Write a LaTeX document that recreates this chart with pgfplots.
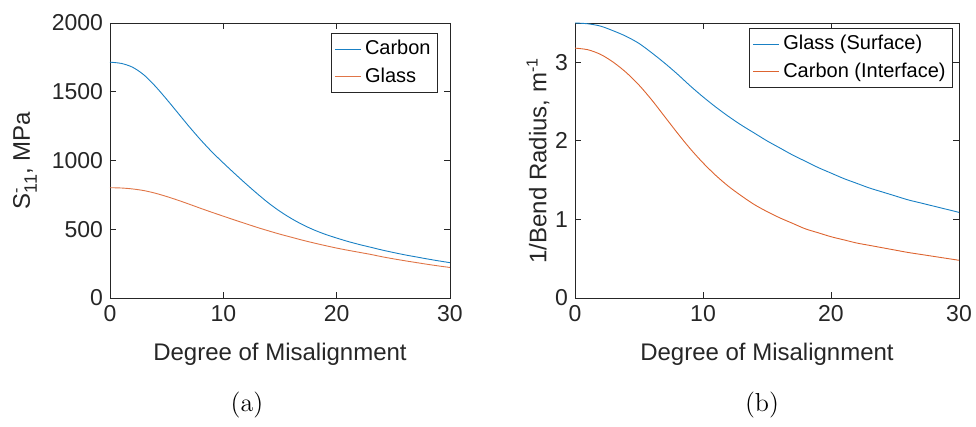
\documentclass[border=0pt]{standalone}
\usepackage{pgfplots}
\pgfplotsset{compat=1.18}
\usepackage{fontspec}
\newfontfamily\arial{Liberation Sans}
\definecolor{mblue}{rgb}{0,0.447,0.741}
\definecolor{morange}{rgb}{0.85,0.325,0.098}
\definecolor{axgray}{rgb}{0.15,0.15,0.15}

\pgfplotsset{
  mstyle/.style={
    scale only axis,
    height=137.5pt,
    xmin=0, xmax=30, xtick={0,10,20,30},
    axis line style={axgray, line width=0.4pt},
    tick style={axgray, line width=0.4pt},
    major tick length=3pt,
    tick label style={font=\arial\fontsize{11.5}{13}\selectfont, text=axgray},
    label style={font=\arial\fontsize{12}{14}\selectfont, text=axgray},
    /pgf/number format/assume math mode=true,
    /pgf/number format/1000 sep={},
    scaled ticks=false,
    xlabel={Degree of Misalignment},
    xlabel style={at={(axis description cs:0.5,0)}, anchor=center, yshift=-28pt},
    legend style={font=\arial\fontsize{10}{12}\selectfont, draw=axgray,
      line width=0.4pt, inner sep=1.5pt, row sep=1pt},
    legend cell align=left,
    legend image code/.code={\draw[#1] (0cm,0cm) -- (0.45cm,0cm);},
    every axis plot/.append style={line width=0.45pt, smooth, tension=0.5, no markers},
  }
}

\begin{document}
\begin{tikzpicture}
\useasboundingbox (0,0) rectangle (488pt,213.5pt);

% (a) compressive strength against misalignment
\begin{axis}[mstyle, at={(55pt,64.5pt)}, anchor=south west, width=170pt,
  ymin=0, ymax=2000, ytick={0,500,1000,1500,2000},
  ylabel={S\rlap{\textsuperscript{-}}\raisebox{-0.55ex}{\fontsize{9}{10}\selectfont 11}, MPa},
  ylabel style={at={(axis description cs:0,0.5)}, anchor=center, yshift=42.5pt},
  legend style={at={(1,1)}, anchor=north east, xshift=-6pt, yshift=-5pt}]
\addplot[mblue!90!white] coordinates {
 (0,1715) (1,1706) (2,1678) (3,1622) (4,1540) (5,1445) (6,1345) (7,1245)
 (8,1150) (9,1062) (10,982) (11,905) (12,830) (13,758) (14,690) (15,630)
 (16,578) (17,533) (18,495) (19,463) (20,436) (21,411) (22,389) (23,369)
 (24,349) (25,331) (26,314) (27,299) (28,284) (29,270) (30,257)};
\addlegendentry{Carbon}
\addplot[morange!80!white] coordinates {
 (0,802) (1,800) (2,793) (3,781) (4,762) (5,738) (6,711) (7,682) (8,652)
 (9,623) (10,595) (11,567) (12,540) (13,513) (14,488) (15,464) (16,442)
 (17,420) (18,400) (19,381) (20,363) (21,347) (22,332) (23,317) (24,300)
 (25,285) (26,271) (27,258) (28,245) (29,233) (30,222)};
\addlegendentry{Glass}
\end{axis}

% (b) curvature against misalignment
\begin{axis}[mstyle, at={(287.5pt,64.5pt)}, anchor=south west, width=192pt,
  ymin=0, ymax=3.5, ytick={0,1,2,3},
  ylabel={1/Bend Radius, m\textsuperscript{-1}},
  ylabel style={at={(axis description cs:0,0.5)}, anchor=center, yshift=18.5pt},
  legend style={at={(1,1)}, anchor=north east, xshift=-3pt, yshift=-2.5pt}]
\addplot[mblue!90!white] coordinates {
 (0,3.50) (1,3.49) (2,3.46) (3,3.40) (4,3.33) (5,3.24) (6,3.12) (7,2.99)
 (8,2.85) (9,2.70) (10,2.56) (11,2.43) (12,2.31) (13,2.20) (14,2.10)
 (15,2.00) (16,1.91) (17,1.82) (18,1.74) (19,1.66) (20,1.59) (21,1.52)
 (22,1.46) (23,1.40) (24,1.35) (25,1.30) (26,1.25) (27,1.21) (28,1.17)
 (29,1.13) (30,1.09)};
\addlegendentry{Glass (Surface)}
\addplot[morange!90!white] coordinates {
 (0,3.18) (1,3.16) (2,3.10) (3,3.00) (4,2.87) (5,2.71) (6,2.52) (7,2.31)
 (8,2.10) (9,1.90) (10,1.72) (11,1.56) (12,1.42) (13,1.30) (14,1.19)
 (15,1.10) (16,1.02) (17,0.95) (18,0.88) (19,0.83) (20,0.78) (21,0.74)
 (22,0.70) (23,0.67) (24,0.64) (25,0.61) (26,0.58) (27,0.555) (28,0.53)
 (29,0.505) (30,0.48)};
\addlegendentry{Carbon (Interface)}
\end{axis}

\node[font=\fontsize{13}{15}\selectfont] at (123.5pt,11pt) {(a)};
\node[font=\fontsize{13}{15}\selectfont] at (381pt,11pt) {(b)};
\end{tikzpicture}
\end{document}
